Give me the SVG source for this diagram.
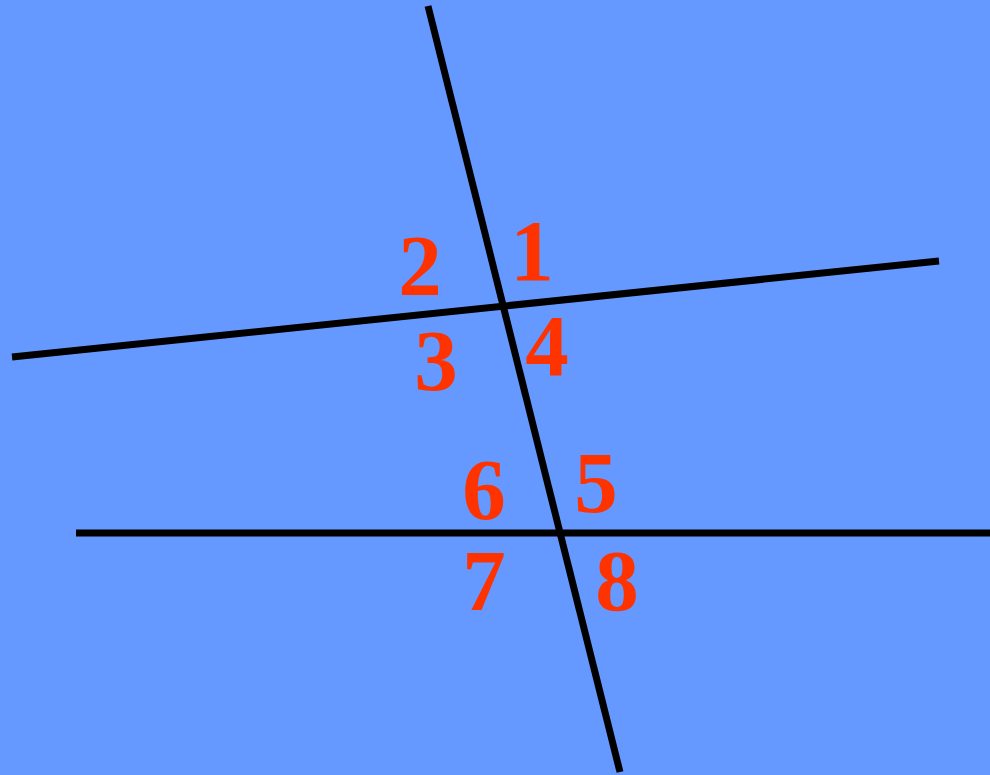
<svg xmlns="http://www.w3.org/2000/svg" width="990" height="775" viewBox="0 0 990 775">
<style>
.ln{stroke:#000;stroke-width:7;fill:none}
.n{font-family:"Liberation Serif","Times New Roman",serif;font-weight:bold;font-size:87px;fill:#FF3300;text-anchor:middle}
</style>
<rect width="990" height="775" fill="#6699FF"/>
<g id="lines">
<line class="ln" x1="428" y1="6" x2="620" y2="772"/>
<line class="ln" x1="12" y1="357" x2="939" y2="261"/>
<line class="ln" x1="76" y1="533" x2="990" y2="533"/>
</g>
<g id="labels">
<text class="n" x="532" y="280">1</text>
<text class="n" x="420" y="295">2</text>
<text class="n" x="436" y="390">3</text>
<text class="n" x="547" y="375">4</text>
<text class="n" x="596" y="512">5</text>
<text class="n" x="484" y="519">6</text>
<text class="n" x="484" y="610">7</text>
<text class="n" x="617" y="610">8</text>
</g>
</svg>
